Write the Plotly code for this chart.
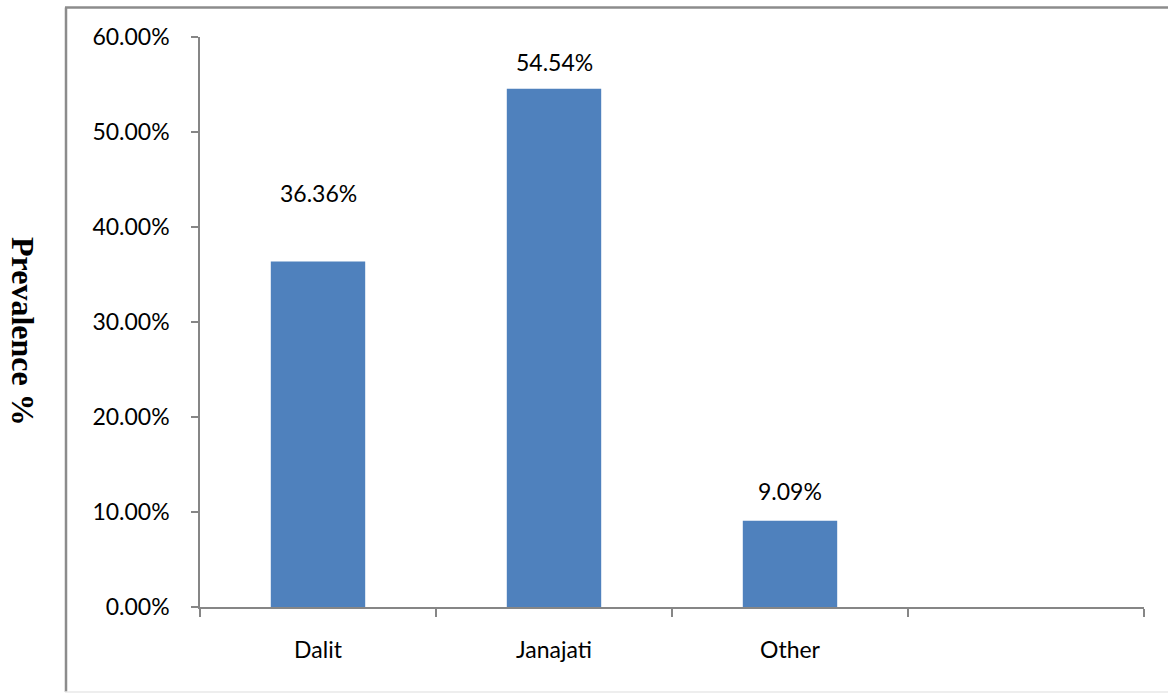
import plotly.graph_objects as go

# ---- data ----
categories = ["Dalit", "Janajati", "Other", " "]
prevalence = [0.3636, 0.5454, 0.0909, None]
y_ticks = [0.0, 0.1, 0.2, 0.3, 0.4, 0.5, 0.6]
y_title = "Prevalence %"

# ---- styles ----
BAR_COLOR = "#4F81BD"
AXIS_COLOR = "#868686"
FONT = "Lato, Calibri, Carlito, sans-serif"
FS = 23
label_yshift = [69, 27, 30]  # label offsets above bars (px)

W, H = 1168, 693
L, R, T, B = 200, 24, 37, 86
plot_w = W - L - R
plot_h = H - T - B

def px_to_paper_x(px):
    return (px - L) / plot_w

def px_to_paper_y(py):
    return (H - B - py) / plot_h

fig = go.Figure()
fig.add_trace(go.Bar(
    x=categories,
    y=prevalence,
    marker=dict(color=BAR_COLOR, line=dict(width=0)),
    width=0.4,
    hoverinfo="x+y",
))

for cat, val, sh in zip(categories, prevalence, label_yshift):
    if val is None:
        continue
    fig.add_annotation(
        x=cat, y=val, xref="x", yref="y",
        text=f"{val*100:.2f}%",
        showarrow=False, yanchor="middle", yshift=sh,
        font=dict(family=FONT, size=FS, color="#000000"),
    )

# y-axis title, rotated reading top-to-bottom
fig.add_annotation(
    xref="paper", yref="paper",
    x=px_to_paper_x(23), y=px_to_paper_y(331),
    text=f"<b>{y_title}</b>", textangle=90, showarrow=False,
    xanchor="center", yanchor="middle",
    font=dict(family="Liberation Serif, Times New Roman, serif", size=32, color="#000000"),
)

# outer frame of the chart area
fig.add_shape(type="line", xref="paper", yref="paper",
              x0=px_to_paper_x(66), x1=px_to_paper_x(66),
              y0=px_to_paper_y(692), y1=px_to_paper_y(7.5),
              line=dict(color="#8C8C8C", width=2.5))
fig.add_shape(type="line", xref="paper", yref="paper",
              x0=px_to_paper_x(65), x1=px_to_paper_x(1175),
              y0=px_to_paper_y(7.5), y1=px_to_paper_y(7.5),
              line=dict(color="#8C8C8C", width=2.5))
fig.add_shape(type="line", xref="paper", yref="paper",
              x0=px_to_paper_x(65), x1=px_to_paper_x(1175),
              y0=px_to_paper_y(692), y1=px_to_paper_y(692),
              line=dict(color="#E8E8E8", width=1.5))

fig.update_layout(
    width=W, height=H,
    margin=dict(l=L, r=R, t=T, b=B, pad=0),
    paper_bgcolor="white", plot_bgcolor="white",
    showlegend=False,
    font=dict(family=FONT, size=FS, color="#000000"),
    bargap=0.6,
)
fig.update_xaxes(
    type="category",
    categoryorder="array", categoryarray=categories,
    range=[-0.5, 3.5],
    showline=True, linecolor=AXIS_COLOR, linewidth=1.5,
    ticks="outside", tickson="boundaries", ticklen=8, tickwidth=1.5, tickcolor=AXIS_COLOR,
    ticklabelstandoff=22,
    showgrid=False, zeroline=False,
    tickfont=dict(family=FONT, size=FS, color="#000000"),
)
fig.update_yaxes(
    range=[0, 0.6],
    tickvals=y_ticks, tickformat=".2%",
    showline=True, linecolor=AXIS_COLOR, linewidth=1.5,
    ticks="outside", ticklen=7, tickwidth=1.5, tickcolor=AXIS_COLOR,
    ticklabelstandoff=17,
    showgrid=False, zeroline=False,
    tickfont=dict(family=FONT, size=FS, color="#000000"),
)

fig.write_html("out.html")
